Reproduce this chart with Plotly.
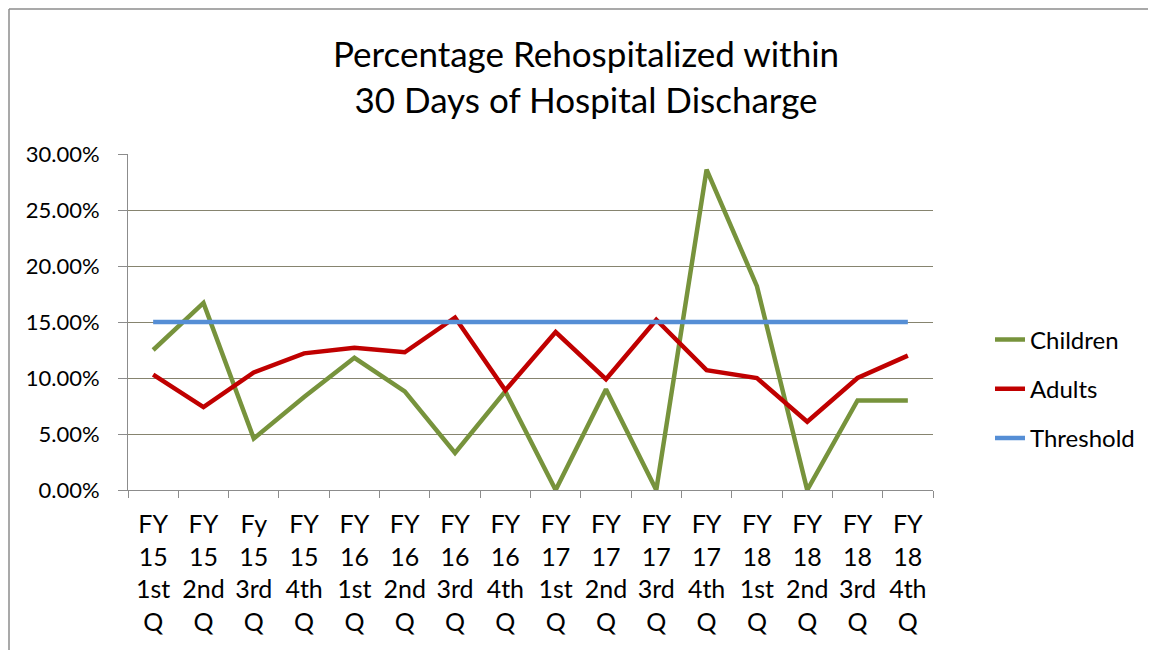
import plotly.graph_objects as go

categories = ["FY<br>15<br>1st<br>Q", "FY<br>15<br>2nd<br>Q", "Fy<br>15<br>3rd<br>Q", "FY<br>15<br>4th<br>Q",
              "FY<br>16<br>1st<br>Q", "FY<br>16<br>2nd<br>Q", "FY<br>16<br>3rd<br>Q", "FY<br>16<br>4th<br>Q",
              "FY<br>17<br>1st<br>Q", "FY<br>17<br>2nd<br>Q", "FY<br>17<br>3rd<br>Q", "FY<br>17<br>4th<br>Q",
              "FY<br>18<br>1st<br>Q", "FY<br>18<br>2nd<br>Q", "FY<br>18<br>3rd<br>Q", "FY<br>18<br>4th<br>Q"]
children = [12.5, 16.7, 4.6, 8.3, 11.8, 8.8, 3.3, 8.8, 0.0, 9.0, 0.0, 28.6, 18.2, 0.0, 8.0, 8.0]
adults = [10.3, 7.4, 10.5, 12.2, 12.7, 12.3, 15.4, 8.9, 14.1, 9.9, 15.2, 10.7, 10.0, 6.1, 10.0, 12.0]
threshold = [15.0] * 16
y_ticks = [0, 5, 10, 15, 20, 25, 30]

FONT = "Lato"
OFF = 8  # page body margin
W, H = 1156, 650
# plot area in screen pixels
L, R, T, B = 128, 933, 154, 490

def px_x(p):
    return (p - L) / (R - L)

def px_y(p):
    return (B - p) / (B - T)

fig = go.Figure()
series = [("Children", children, "#77933C"), ("Adults", adults, "#C00000"), ("Threshold", threshold, "#558ED5")]
for name, vals, col in series:
    fig.add_trace(go.Scatter(x=categories, y=[v / 100 for v in vals], mode="lines", name=name,
                             legendgroup=name, line=dict(color=col, width=4.5)))

grid = "#86846F"
fig.update_layout(
    width=W, height=H,
    margin=dict(l=L - OFF, r=W - R + OFF, t=T - OFF, b=H - B + OFF),
    paper_bgcolor="white", plot_bgcolor="white",
    font=dict(family=FONT, color="black", size=22),
    title=dict(text="Percentage Rehospitalized within<br>30 Days of Hospital Discharge",
               x=(586 - OFF) / W, xanchor="center", xref="container",
               y=1 - (67 - OFF) / H, yanchor="middle", yref="container",
               font=dict(family=FONT, size=35, color="black")),
    showlegend=True,
    legend=dict(x=px_x(990), xanchor="left", y=px_y(389), yanchor="middle",
                font=dict(family=FONT, size=24, color="black"), tracegroupgap=15,
                bgcolor="rgba(0,0,0,0)"),
    xaxis=dict(type="category", range=[-0.5, 15.5], tickson="boundaries", ticks="outside",
               ticklen=7, tickcolor="#8c8c8c", showline=True, linecolor="#8c8c8c", linewidth=1,
               showgrid=False, tickfont=dict(family=FONT, size=25, color="black"), tickangle=0,
               ticklabelstandoff=12, fixedrange=True),
    yaxis=dict(range=[0, 0.30], tickvals=[t / 100 for t in y_ticks], tickformat=".2%",
               ticks="outside", ticklen=9, tickcolor="#8c8c8c", showline=True, linecolor="#8c8c8c",
               linewidth=1, showgrid=True, gridcolor=grid, gridwidth=1, zeroline=False,
               tickfont=dict(family=FONT, size=22, color="black"), ticklabelstandoff=14),
)

# outer chart frame
fig.add_shape(type="line", xref="paper", yref="paper", x0=px_x(9), x1=px_x(1170), y0=px_y(9), y1=px_y(9),
              line=dict(color="#8c8c8c", width=1.5))
fig.add_shape(type="line", xref="paper", yref="paper", x0=px_x(9), x1=px_x(9), y0=px_y(9), y1=px_y(670),
              line=dict(color="#8c8c8c", width=1.5))

fig.write_html("out.html")
